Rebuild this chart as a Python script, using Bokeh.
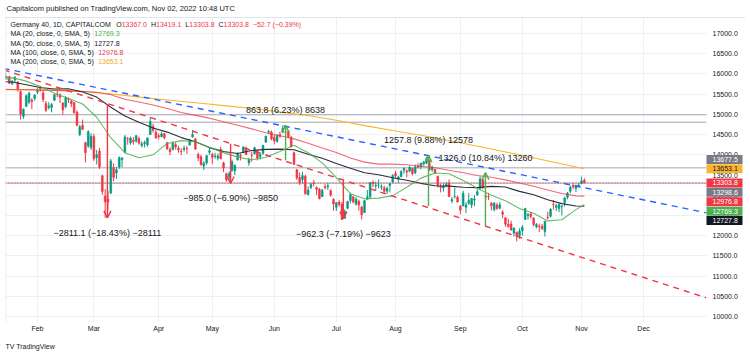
import pandas as pd
from bokeh.plotting import figure
from bokeh.models import (Range1d, FixedTicker, NumeralTickFormatter, Label, Span,
                          Arrow, OpenHead, ColumnDataSource, BoxAnnotation, Title)
from bokeh.core.properties import value
from bokeh.embed import file_html
from bokeh.resources import INLINE

# ---------------- data ----------------
dates = (
    ["2022-01-%02d" % d for d in [12, 13, 14, 17, 18, 19, 20, 21, 24, 25, 26, 27, 28, 31]]
    + ["2022-02-%02d" % d for d in [1, 2, 3, 4, 7, 8, 9, 10, 11, 14, 15, 16, 17, 18, 21, 22, 23, 24, 25, 28]]
    + ["2022-03-%02d" % d for d in [1, 2, 3, 4, 7, 8, 9, 10, 11, 14, 15, 16, 17, 18, 21, 22, 23, 24, 25, 28, 29, 30, 31]]
    + ["2022-04-%02d" % d for d in [1, 4, 5, 6, 7, 8, 11, 12, 13, 14, 19, 20, 21, 22, 25, 26, 27, 28, 29]]
    + ["2022-05-%02d" % d for d in [2, 3, 4, 5, 6, 9, 10, 11, 12, 13, 16, 17, 18, 19, 20, 23, 24, 25, 26, 27, 30, 31]]
    + ["2022-06-%02d" % d for d in [1, 2, 3, 6, 7, 8, 9, 10, 13, 14, 15, 16, 17, 20, 21, 22, 23, 24, 27, 28, 29, 30]]
    + ["2022-07-%02d" % d for d in [1, 4, 5, 6, 7, 8, 11, 12, 13, 14, 15, 18, 19, 20, 21, 22, 25, 26, 27, 28, 29]]
    + ["2022-08-%02d" % d for d in [1, 2, 3, 4, 5, 8, 9, 10, 11, 12, 15, 16, 17, 18, 19, 22, 23, 24, 25, 26, 29, 30, 31]]
    + ["2022-09-%02d" % d for d in [1, 2, 5, 6, 7, 8, 9, 12, 13, 14, 15, 16, 19, 20, 21, 22, 23, 26, 27, 28, 29, 30]]
    + ["2022-10-%02d" % d for d in [3, 4, 5, 6, 7, 10, 11, 12, 13, 14, 17, 18, 19, 20, 21, 24, 25, 26, 27, 28, 31]]
    + ["2022-11-01", "2022-11-02"]
)

opens = [
    15960, 16040, 15950, 15900, 15930, 15760, 15850, 15800, 15560, 14950, 15200, 15300, 15350, 15390,
    15550, 15640, 15530, 15270, 15170, 15170, 15350, 15500, 15480, 15280, 15190, 15390, 15330, 15290, 15050, 14500, 14730, 14300, 14220, 14180,
    14450, 13930, 14090, 13480, 12980, 12900, 13050, 13680, 13550, 13700, 13880, 14060, 14390, 14300, 14360, 14340, 14400, 14230, 14280, 14250, 14500, 14700, 14560,
    14470, 14450, 14520, 14300, 14130, 14130, 14250, 14160, 14080, 14130, 14160, 14240, 14440, 14390, 14010, 13950, 13720, 13800, 14060,
    14010, 13960, 13920, 14130, 13800, 13530, 13460, 13620, 13600, 13870, 13990, 14060, 14170, 13800, 13990, 14030, 14090, 13960, 14040, 14310, 14560, 14560,
    14430, 14330, 14500, 14560, 14560, 14580, 14430, 14050, 13630, 13440, 13390, 13470, 13020, 13190, 13300, 13190, 13150, 12970, 13210, 13210, 13110, 12900,
    12700, 12830, 12780, 12430, 12680, 12870, 12960, 12780, 12850, 12710, 12570, 12900, 12960, 13320, 13230, 13250, 13200, 13180, 13100, 13240, 13330,
    13540, 13400, 13460, 13620, 13600, 13600, 13660, 13560, 13720, 13710, 13770, 13800, 13870, 13630, 13640, 13470, 13220, 13180, 13230, 13300, 12860, 12960, 12950,
    12730, 12740, 12700, 12800, 12760, 12880, 13010, 13170, 13380, 12980, 12960, 12800, 12640, 12760, 12680, 12580, 12440, 12280, 12290, 12060, 12080, 12000,
    12120, 12400, 12500, 12540, 12430, 12220, 12230, 12230, 12100, 12450, 12480, 12770, 12700, 12670, 12720, 12820, 12950, 13100, 13240, 13170, 13240,
    13290, 13367.0,
]
highs = [
    16060, 16080, 15960, 15960, 15950, 15850, 15950, 15820, 15600, 15150, 15490, 15560, 15400, 15500,
    15660, 15700, 15600, 15330, 15300, 15280, 15510, 15590, 15520, 15300, 15450, 15420, 15370, 15310, 15100, 14740, 14870, 14320, 14610, 14530,
    14520, 14120, 14170, 13510, 13150, 13100, 13900, 13790, 13700, 13960, 13950, 14490, 14440, 14450, 14440, 14490, 14450, 14330, 14350, 14430, 14930, 14770, 14620,
    14530, 14570, 14540, 14320, 14190, 14330, 14310, 14220, 14160, 14230, 14220, 14400, 14610, 14420, 14050, 14000, 13840, 14000, 14190,
    14050, 14050, 14030, 14200, 13830, 13560, 13590, 13880, 13760, 14060, 14030, 14220, 14200, 13930, 14080, 14200, 14110, 14050, 14250, 14470, 14620, 14600,
    14500, 14500, 14570, 14730, 14600, 14610, 14470, 14080, 13650, 13560, 13580, 13510, 13220, 13310, 13380, 13220, 13180, 13160, 13280, 13300, 13150, 12920,
    12830, 12880, 12830, 12650, 12860, 13060, 12980, 12950, 12890, 12740, 12890, 13130, 13330, 13370, 13340, 13390, 13270, 13230, 13220, 13310, 13520,
    13600, 13480, 13620, 13690, 13640, 13730, 13680, 13760, 13790, 13800, 13850, 13950, 13890, 13730, 13650, 13480, 13280, 13290, 13320, 13390, 12960, 13190, 12990,
    12760, 13110, 12830, 13050, 12930, 13000, 13150, 13470, 13420, 13040, 13060, 12830, 12830, 12810, 12830, 12630, 12460, 12420, 12370, 12210, 12100, 12180,
    12260, 12690, 12560, 12580, 12460, 12310, 12300, 12290, 12360, 12590, 12680, 12880, 12790, 12800, 12760, 12960, 13080, 13240, 13300, 13260, 13300,
    13460, 13419.1,
]
lows = [
    15940, 15990, 15850, 15880, 15750, 15720, 15800, 15560, 14870, 14890, 15180, 15250, 15130, 15340,
    15500, 15560, 15300, 15060, 15120, 15050, 15330, 15420, 15280, 14990, 15150, 15280, 15180, 15020, 14700, 14460, 14610, 13810, 14170, 14120,
    13850, 13760, 13650, 13010, 12440, 12630, 13040, 13350, 13400, 13650, 13700, 14040, 14250, 14250, 14250, 14300, 14250, 14180, 14180, 14200, 14500, 14550, 14400,
    14380, 14430, 14380, 14120, 13990, 14110, 14130, 14050, 13990, 14080, 14020, 14230, 14430, 14120, 13840, 13730, 13620, 13750, 14000,
    13770, 13900, 13860, 13890, 13570, 13330, 13380, 13580, 13500, 13860, 13860, 14040, 13990, 13730, 13830, 14000, 13860, 13880, 14000, 14300, 14510, 14360,
    14260, 14300, 14420, 14540, 14450, 14410, 14180, 13750, 13380, 13250, 13290, 13010, 12990, 13150, 13220, 13010, 12900, 12950, 13140, 13130, 12960, 12620,
    12610, 12720, 12390, 12420, 12650, 12800, 12800, 12740, 12620, 12400, 12560, 12890, 12900, 13200, 13110, 13170, 13130, 13040, 13030, 13070, 13300,
    13420, 13310, 13450, 13530, 13440, 13560, 13490, 13520, 13660, 13640, 13730, 13770, 13600, 13580, 13520, 13190, 13070, 13090, 13200, 12950, 12800, 12920, 12820,
    12530, 12720, 12560, 12760, 12680, 12730, 12980, 13150, 13150, 12880, 12880, 12620, 12600, 12640, 12650, 12430, 12220, 12200, 12120, 11980, 11860, 11920,
    12000, 12390, 12400, 12420, 12230, 12180, 12090, 12140, 11980, 12400, 12450, 12640, 12610, 12580, 12500, 12720, 12900, 13050, 13150, 13080, 13190,
    13270, 13303.8,
]
closes = [
    16010, 16031, 15883, 15933, 15772, 15810, 15912, 15603, 15011, 15123, 15460, 15524, 15318, 15471,
    15619, 15613, 15368, 15100, 15206, 15242, 15482, 15490, 15425, 15113, 15412, 15370, 15267, 15042, 14731, 14693, 14631, 14052, 14567, 14461,
    13905, 14000, 13698, 13094, 12835, 12831, 13848, 13442, 13628, 13929, 13917, 14440, 14388, 14413, 14326, 14473, 14284, 14274, 14306, 14418, 14820, 14606, 14415,
    14446, 14518, 14424, 14152, 14078, 14284, 14193, 14124, 14076, 14163, 14153, 14362, 14502, 14142, 13924, 13756, 13793, 13979, 14098,
    13939, 13970, 13971, 13902, 13674, 13381, 13535, 13829, 13740, 14027, 13964, 14186, 14008, 13882, 13982, 14175, 13919, 14008, 14232, 14462, 14576, 14388,
    14340, 14485, 14461, 14653, 14556, 14446, 14199, 13762, 13427, 13304, 13483, 13038, 13127, 13266, 13292, 13145, 12912, 13119, 13187, 13232, 13003, 12784,
    12813, 12773, 12401, 12595, 12843, 13015, 12832, 12905, 12757, 12520, 12865, 12959, 13308, 13282, 13247, 13254, 13211, 13097, 13166, 13282, 13484,
    13479, 13449, 13587, 13662, 13574, 13688, 13535, 13700, 13695, 13795, 13816, 13910, 13627, 13697, 13544, 13230, 13195, 13221, 13272, 12971, 12893, 12962, 12835,
    12631, 13050, 12761, 12872, 12916, 12904, 13088, 13403, 13189, 12957, 12957, 12741, 12803, 12671, 12767, 12532, 12284, 12228, 12140, 12184, 11976, 12114,
    12209, 12671, 12517, 12471, 12273, 12273, 12220, 12172, 12356, 12438, 12650, 12765, 12741, 12767, 12731, 12931, 13053, 13196, 13211, 13243, 13254,
    13356.5, 13303.8,
]

# moving averages, read at bar positions
ma20_bar = [0, 5, 10, 15, 20, 25, 30, 35, 40, 45, 50, 55, 60, 65, 70, 75, 80, 85, 90, 95, 100, 105, 110, 115,
            120, 125, 130, 135, 140, 145, 150, 155, 160, 165, 170, 175, 180, 185, 190, 195, 200, 205, 208]
ma20_val = [15803, 15908, 15822, 15690, 15524, 15393, 15256, 14928, 14423, 14051, 13927, 13999, 14281, 14351,
            14323, 14179, 14054, 13942, 13877, 13939, 14079, 14234, 14052, 13799, 13437, 13038, 12913, 12929,
            12990, 13196, 13423, 13550, 13532, 13363, 13170, 13002, 12861, 12674, 12554, 12365, 12395, 12644, 12769.3]
ma50_bar = ma20_bar
ma50_val = [15811, 15799, 15732, 15663, 15626, 15634, 15554, 15427, 15177, 14960, 14804, 14664, 14561, 14425,
            14323, 14178, 14080, 14030, 14105, 14134, 14141, 14125, 14013, 13913, 13787, 13668, 13557, 13507,
            13432, 13371, 13294, 13234, 13224, 13197, 13187, 13220, 13203, 13095, 13013, 12887, 12792, 12733, 12727.8]
ma100_bar = ma20_bar
ma100_val = [15620, 15615, 15610, 15600, 15590, 15580, 15570, 15545, 15485, 15373, 15307, 15231, 15146, 15044,
             14975, 14906, 14817, 14729, 14641, 14547, 14472, 14394, 14287, 14169, 14055, 13923, 13818, 13769,
             13768, 13752, 13718, 13679, 13619, 13555, 13487, 13444, 13380, 13301, 13222, 13129, 13043, 12983, 12976.8]
ma200_bar = [0, 11, 21, 31, 41, 51, 61, 71, 81, 91, 101, 111, 121, 131, 141, 151, 161, 171, 181, 191, 201, 208]
ma200_val = [15610, 15615, 15600, 15560, 15500, 15420, 15350, 15280, 15210, 15140, 15050, 14960, 14840, 14710,
             14590, 14470, 14340, 14200, 14055, 13910, 13760, 13653.1]

hline_levels = [14990, 14806, 13677.5, 13298.6]
last_price = 13303.8

trend_blue_bar = [2.0, 251.3]
trend_blue_val = [16136, 12565]
trend_red_bar = [2.0, 251.3]
trend_red_val = [16100, 10462]

meas_bar = [38.8, 82.5, 102.0, 122.5, 152.7, 172.9]
meas_from = [15250.3, 14275.4, 13865.0, 13384.0, 12730.8, 12232.5]
meas_to = [12439.2, 13290.4, 14728.8, 12421.7, 13988.6, 13558.5]
meas_text = ["\u22122811.1 (\u221218.43%) \u221228111", "\u2212985.0 (\u22126.90%) \u22129850",
             "863.8 (6.23%) 8638", "\u2212962.3 (\u22127.19%) \u22129623",
             "1257.8 (9.88%) 12578", "1326.0 (10.84%) 13260"]

month_names = ["Feb", "Mar", "Apr", "May", "Jun", "Jul", "Aug", "Sep", "Oct", "Nov", "Dec"]
price_ticks = [10000, 10500, 11000, 11500, 12000, 12500, 13000, 13500, 14000, 14500, 15000, 15500, 16000, 16500, 17000]

tag_values = [13677.5, 13653.1, 13303.8, 13298.6, 12976.8, 12769.3, 12727.8]
tag_colors = ["#787b86", "#f9b52f", "#f23645", "#787b86", "#f23645", "#4caf50", "#131722"]
tag_text_colors = ["#ffffff", "#131722", "#ffffff", "#ffffff", "#ffffff", "#ffffff", "#ffffff"]

# ---------------- styling / geometry ----------------
UP, DOWN = "#089981", "#f23645"
TXT = "#131722"
FONT = "Liberation Sans"
BAR_PX = 2.819
PANE_W = 701                      # price pane width (px)
FW, FH = 740, 319                 # frame = pane + price scale
Y0, Y1 = 9852, 17742
X0 = 2.65
X1 = X0 + FW / BAR_PX
PANE_R = X0 + PANE_W / BAR_PX
PXP = FH / (Y1 - Y0)              # px per price unit

AW = {' ': 278, '(': 333, ')': 333, ',': 278, '.': 278, '%': 889, '\u2212': 584, '-': 333,
      'A': 667, 'C': 722, 'D': 722, 'G': 778, 'H': 722, 'I': 278, 'L': 556, 'M': 833, 'O': 778,
      'P': 667, 'S': 667, 'T': 611, 'a': 556, 'c': 500, 'e': 556, 'l': 222, 'm': 833, 'n': 556,
      'o': 556, 'r': 333, 's': 500, 'y': 500}


def tw(s, size):
    return sum(AW.get(ch, 556) for ch in s) * size / 1000.0


p = figure(frame_width=FW, frame_height=FH, x_range=Range1d(X0, X1), y_range=Range1d(Y0, Y1),
           output_backend="svg", toolbar_location=None, y_axis_location="right",
           min_border_left=0, min_border_right=0, min_border_top=0, min_border_bottom=31,
           background_fill_color="white", border_fill_color="white")
p.outline_line_color = None
p.margin = (3, 0, 0, 5)

# month ticks (trading-day positions, continued with future business days)
all_days = list(pd.to_datetime(dates)) + list(pd.bdate_range("2022-11-03", "2022-12-30"))
first_bar = {}
for i, d in enumerate(all_days):
    first_bar.setdefault(d.month, i)
month_ticks = [first_bar[m] for m in range(2, 13)]

xa = p.xaxis[0]
xa.ticker = FixedTicker(ticks=month_ticks)
xa.major_label_overrides = {t: n for t, n in zip(month_ticks, month_names)}
xa.axis_line_color = None
xa.major_tick_line_color = None
xa.minor_tick_line_color = None
xa.major_tick_out = 0
xa.major_label_standoff = 2
xa.major_label_text_font_size = "7px"
xa.major_label_text_font = FONT
xa.major_label_text_color = TXT

ya = p.yaxis[0]
ya.ticker = FixedTicker(ticks=price_ticks)
ya.formatter = NumeralTickFormatter(format="0.0")
ya.axis_line_color = None
ya.major_tick_line_color = None
ya.minor_tick_line_color = None
ya.major_tick_out = 0
ya.major_tick_in = 0
ya.major_label_standoff = -33     # labels sit inside the price-scale strip of the frame
ya.major_label_text_font_size = "7px"
ya.major_label_text_font = FONT
ya.major_label_text_color = TXT

p.xgrid.ticker = FixedTicker(ticks=month_ticks)
p.ygrid.ticker = FixedTicker(ticks=price_ticks)
p.xgrid.grid_line_color = "#eef0f5"
p.ygrid.grid_line_color = "#eef0f5"

# horizontal drawn lines (pane only)
p.segment(x0=[X0] * len(hline_levels), y0=hline_levels, x1=[PANE_R] * len(hline_levels),
          y1=hline_levels, line_color="#a3a6af", line_width=1)

# candles
xs = list(range(len(dates)))
colors = [UP if c >= o else DOWN for o, c in zip(opens, closes)]
src = ColumnDataSource(dict(x=xs, h=highs, l=lows,
                            top=[max(o, c) for o, c in zip(opens, closes)],
                            bot=[min(o, c) for o, c in zip(opens, closes)], col=colors))
p.segment(x0="x", y0="l", x1="x", y1="h", line_color="col", line_width=1, source=src)
p.vbar(x="x", width=0.62, top="top", bottom="bot", fill_color="col", line_color="col",
       line_width=0.6, source=src)

# moving averages
p.line(ma200_bar, ma200_val, line_color="#f9b52f", line_width=1.1)
p.line(ma100_bar, ma100_val, line_color="#f23645", line_alpha=0.75, line_width=1.1)
p.line(ma50_bar, ma50_val, line_color="#2a2e39", line_width=1.1)
p.line(ma20_bar, ma20_val, line_color="#4caf50", line_alpha=0.85, line_width=1.1)

# trend lines
p.line(trend_blue_bar, trend_blue_val, line_color="#2962ff", line_width=1.4, line_dash="6 5")
p.line(trend_red_bar, trend_red_val, line_color="#f23645", line_width=1.4, line_dash="6 5")

# price line
p.line([X0, PANE_R], [last_price, last_price], line_color="#f23645", line_width=1, line_dash="1 2")

# white strip for the price scale (covers grid lines there)
p.quad(left=[PANE_R], right=[X1 + 5], bottom=[Y0 - 500], top=[Y1 + 500],
       fill_color="white", line_color=None)

# price-range measurements
for xb, a, b, t in zip(meas_bar, meas_from, meas_to, meas_text):
    col = "#4caf50" if b > a else "#f23645"
    p.add_layout(Arrow(end=OpenHead(size=7, line_color=col, line_width=1.4),
                       x_start=xb, y_start=a, x_end=xb, y_end=b,
                       line_color=col, line_width=1.4))
    p.add_layout(Label(x=xb, y=b, y_offset=(15 if b > a else -15), text=t,
                       text_align="center", text_baseline="middle", text_font=FONT,
                       text_font_size="9px", text_color=TXT))

# chart frame: left edge, then header area above the top frame line
p.add_layout(Span(location=X0 + 0.3 / BAR_PX, dimension="height", line_color="#e0e3eb", line_width=1))
frame_top_price = Y1 - 14 / PXP
p.add_layout(BoxAnnotation(bottom=frame_top_price, fill_color="white", fill_alpha=1.0, line_color=None))
p.add_layout(Span(location=frame_top_price, dimension="width", line_color="#e0e3eb", line_width=1))
p.add_layout(Label(x=1, y=FH - 5, x_units="screen", y_units="screen",
                   text="Capitalcom published on TradingView.com, Nov 02, 2022 10:48 UTC",
                   text_font=FONT, text_font_size="7.5px", text_color=TXT, text_baseline="middle"))

# legend
def seg_row(parts, ys, x=5, size=7.0):
    for txt, col, g in parts:
        p.add_layout(Label(x=x, y=ys, x_units="screen", y_units="screen", text=txt,
                           text_font=FONT, text_font_size="%.1fpx" % size, text_color=col,
                           text_baseline="middle"))
        x += tw(txt, size) + g

seg_row([("Germany 40, 1D, CAPITALCOM", TXT, 5), ("O", TXT, 0), ("13367.0", DOWN, 4),
         ("H", TXT, 0), ("13419.1", DOWN, 4), ("L", TXT, 0), ("13303.8", DOWN, 4),
         ("C", TXT, 0), ("13303.8", DOWN, 4), ("\u221252.7 (\u22120.39%)", DOWN, 0)], 298)
ma_rows = [("MA (20, close, 0, SMA, 5)", "12769.3", "#4caf50"),
           ("MA (50, close, 0, SMA, 5)", "12727.8", TXT),
           ("MA (100, close, 0, SMA, 5)", "12976.8", "#f23645"),
           ("MA (200, close, 0, SMA, 5)", "13653.1", "#f5a623")]
for k, (nm, v, c) in enumerate(ma_rows):
    seg_row([(nm, TXT, 4), (v, c, 0)], 288.7 - k * 9.2)

# price tags on the scale (stacked so they do not overlap)
TAG_H = 9.4
nat = [FH - (v - Y0) * PXP for v in tag_values]  # px from frame top
ypx = list(nat)
anchor = tag_values.index(last_price)
for i in range(anchor - 1, -1, -1):
    ypx[i] = min(nat[i], ypx[i + 1] - TAG_H)
for i in range(anchor + 1, len(nat)):
    ypx[i] = max(nat[i], ypx[i - 1] + TAG_H)
tag_src = ColumnDataSource(dict(
    y=[Y0 + (FH - yy) / PXP for yy in ypx],
    txt=["%.1f" % v for v in tag_values], bg=tag_colors, fg=tag_text_colors))
p.rect(x=PANE_R + 18 / BAR_PX, y="y", width=36, height=TAG_H - 0.4, width_units="screen",
       height_units="screen", fill_color="bg", line_color=None, source=tag_src, level="overlay")
p.text(x=PANE_R + 6 / BAR_PX, y="y", text="txt", text_color="fg", text_font=value(FONT),
       text_font_size="7px", text_align="left", text_baseline="middle", source=tag_src,
       level="overlay")

# TradingView mark below the time scale
p.add_layout(Title(text="TV TradingView", align="left", text_font=FONT, text_font_size="7px",
                   text_font_style="normal", text_color=TXT, standoff=12), "below")

open("out.html", "w").write(file_html(p, INLINE))
